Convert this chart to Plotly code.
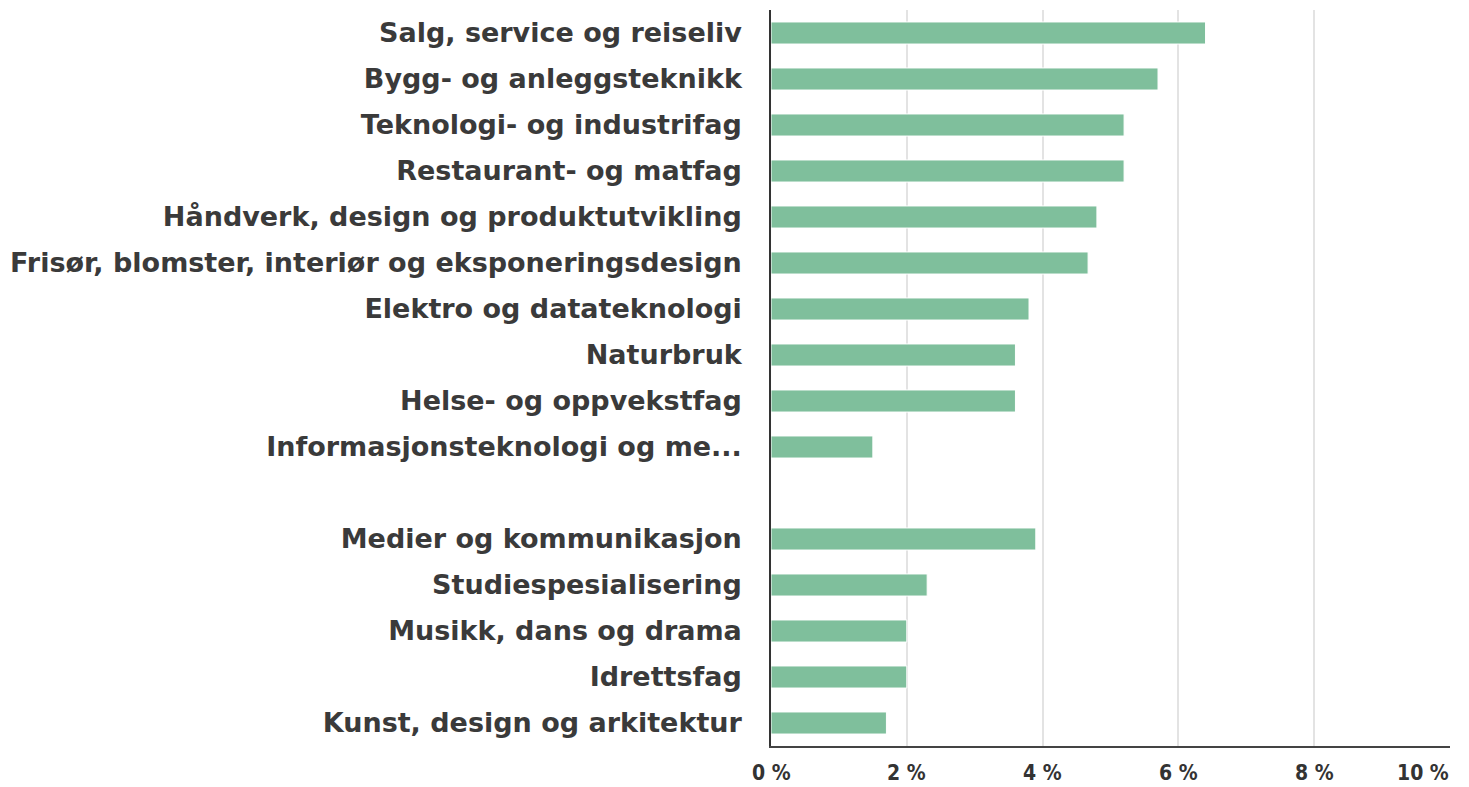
import plotly.graph_objects as go

categories = [
    "Salg, service og reiseliv",
    "Bygg- og anleggsteknikk",
    "Teknologi- og industrifag",
    "Restaurant- og matfag",
    "Håndverk, design og produktutvikling",
    "Frisør, blomster, interiør og eksponeringsdesign",
    "Elektro og datateknologi",
    "Naturbruk",
    "Helse- og oppvekstfag",
    "Informasjonsteknologi og me...",
    " ",
    "Medier og kommunikasjon",
    "Studiespesialisering",
    "Musikk, dans og drama",
    "Idrettsfag",
    "Kunst, design og arkitektur",
]
values = [6.4, 5.7, 5.2, 5.2, 4.8, 4.67, 3.8, 3.6, 3.6, 1.5, None, 3.9, 2.3, 2.0, 2.0, 1.7]

x_ticks = [0, 2, 4, 6, 8, 10]
x_tick_labels = ["0 %", "2 %", "4 %", "6 %", "8 %", "10 %"]

fig = go.Figure()
fig.add_trace(go.Bar(
    x=values, y=categories, orientation="h",
    marker=dict(color="#7fbf9c", line=dict(color="white", width=1)),
    hoverinfo="x+y",
))

annotations = []
for v, t in zip(x_ticks, x_tick_labels):
    annotations.append(dict(
        x=v, y=0, xref="x", yref="paper", yanchor="middle",
        xanchor="right" if v == x_ticks[-1] else "center",
        text=t, showarrow=False, yshift=-27, borderpad=0,
        font=dict(family="DejaVu Sans Condensed, DejaVu Sans", size=21,
                  color="#333333", weight="bold"),
    ))

# page body has an 8px margin, so the figure is shrunk and margins shifted by 8px
fig.update_layout(
    width=1461, height=779,
    margin=dict(l=763, r=19, t=2, b=41),
    paper_bgcolor="white", plot_bgcolor="white",
    bargap=0.52,
    showlegend=False,
    annotations=annotations,
    xaxis=dict(
        range=[0, 10], tickvals=x_ticks, showticklabels=False,
        showgrid=True, gridcolor="#e3e3e3", gridwidth=1.5,
        zeroline=False, showline=True, linecolor="#444444", linewidth=1.5,
        fixedrange=True,
    ),
    yaxis=dict(
        type="category", categoryorder="array", categoryarray=categories,
        autorange="reversed", showgrid=False, zeroline=False,
        showline=True, linecolor="#333333", linewidth=1.5,
        ticks="", ticklabelstandoff=22,
        tickfont=dict(family="DejaVu Sans", size=27, color="#3a3a3a", weight="bold"),
        fixedrange=True,
    ),
)

fig.write_html("out.html")
